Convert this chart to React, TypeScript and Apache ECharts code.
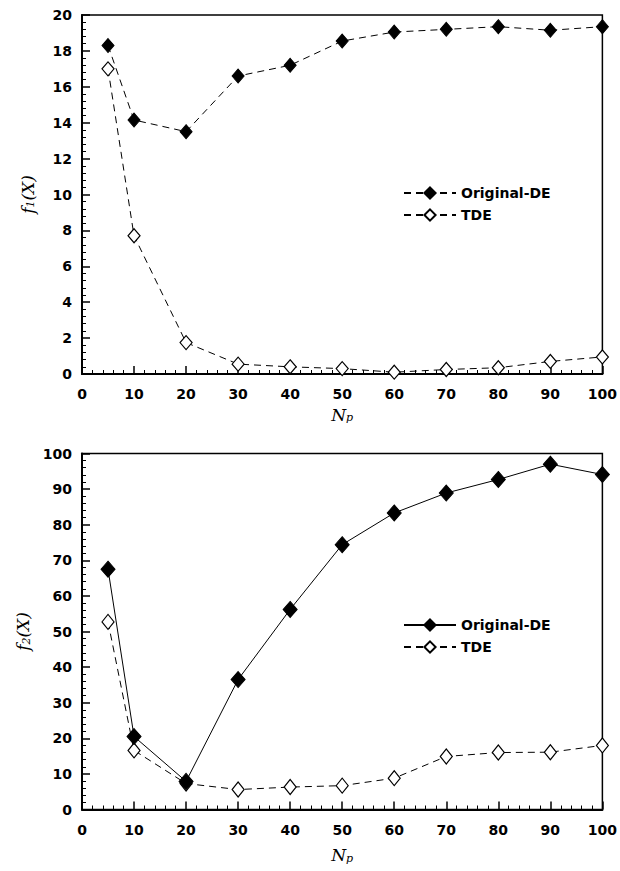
import React, { useEffect, useRef } from "react";
import * as echarts from "echarts";

const NP = [5, 10, 20, 30, 40, 50, 60, 70, 80, 90, 100];
const F1_ORIGINAL = [18.3, 14.15, 13.5, 16.6, 17.2, 18.55, 19.05, 19.2, 19.35, 19.15, 19.35];
const F1_TDE = [17.0, 7.7, 1.75, 0.55, 0.4, 0.3, 0.1, 0.25, 0.35, 0.7, 0.95];
const F2_ORIGINAL = [67.5, 20.5, 7.9, 36.5, 56.2, 74.4, 83.3, 88.9, 92.7, 97.0, 94.1];
const F2_TDE = [52.7, 16.6, 7.3, 5.6, 6.3, 6.7, 8.8, 14.9, 16.0, 16.1, 18.0];
const LEGEND = ["Original-DE", "TDE"];

const SANS = "DejaVu Sans";
const SERIF = "DejaVu Serif";

const labelStyle = { color: "#000", fontFamily: SANS, fontWeight: "bold", fontSize: 14 };

function nameRich() {
  return {
    rich: {
      m: { fontFamily: SERIF, fontStyle: "italic", fontSize: 17, color: "#000", lineHeight: 22, verticalAlign: "bottom" },
      s: { fontFamily: SERIF, fontStyle: "italic", fontSize: 11, color: "#000", lineHeight: 16, verticalAlign: "bottom" },
    },
  };
}

function makeOption(cfg: {
  gridTop: number;
  gridHeight: number;
  yMax: number;
  yInterval: number;
  yName: string;
  xNameGap: number;
  legendTop: number;
  orig: number[];
  tde: number[];
  origSolid: boolean;
  origSize: number[];
  tdeSize: number[];
}) {
  const axisCommon = {
    type: "value",
    axisLine: { show: true, onZero: false, lineStyle: { color: "#000", width: 2 } },
    axisTick: { show: true, inside: true, length: 8, lineStyle: { color: "#000", width: 1.5 } },
    minorTick: { show: true, splitNumber: 5, length: 4, lineStyle: { color: "#000", width: 1 } },
    splitLine: { show: false },
    minorSplitLine: { show: false },
  };
  return {
    animation: false,
    grid: {
      left: 82,
      top: cfg.gridTop,
      width: 524,
      height: cfg.gridHeight,
      show: true,
      borderColor: "#000",
      borderWidth: 1.5,
      backgroundColor: "transparent",
    },
    xAxis: {
      ...axisCommon,
      min: 0,
      max: 100,
      interval: 10,
      axisLabel: { ...labelStyle, margin: 13 },
      name: "{m|N}{s|p}",
      nameLocation: "middle",
      nameGap: cfg.xNameGap,
      nameTextStyle: nameRich(),
    },
    yAxis: {
      ...axisCommon,
      min: 0,
      max: cfg.yMax,
      interval: cfg.yInterval,
      axisLabel: { ...labelStyle, margin: 10 },
      name: cfg.yName,
      nameLocation: "middle",
      nameRotate: 90,
      nameGap: 46,
      nameTextStyle: nameRich(),
    },
    legend: {
      orient: "vertical",
      left: 398,
      top: cfg.legendTop,
      itemWidth: 52,
      itemHeight: 14,
      itemGap: 8,
      data: LEGEND,
      textStyle: { ...labelStyle },
      selectedMode: false,
    },
    series: [
      {
        name: "TDE",
        type: "line",
        data: NP.map((x, i) => [x, cfg.tde[i]]),
        symbol: "diamond",
        symbolSize: cfg.tdeSize,
        showAllSymbol: true,
        lineStyle: { color: "#000", width: 1, type: [7, 5] },
        itemStyle: { color: "#fff", borderColor: "#000", borderWidth: 1.2 },
        clip: false,
        z: 2,
      },
      {
        name: "Original-DE",
        type: "line",
        data: NP.map((x, i) => [x, cfg.orig[i]]),
        symbol: "diamond",
        symbolSize: cfg.origSize,
        showAllSymbol: true,
        lineStyle: { color: "#000", width: 1, type: cfg.origSolid ? "solid" : [7, 5] },
        itemStyle: { color: "#000", borderColor: "#000", borderWidth: 1 },
        clip: false,
        z: 3,
      },
    ],
  };
}

function Chart({ option, style }: { option: any; style: React.CSSProperties }) {
  const ref = useRef<HTMLDivElement>(null);
  useEffect(() => {
    if (!ref.current) return;
    const chart = echarts.init(ref.current, undefined, { renderer: "svg" });
    chart.setOption(option);
    return () => chart.dispose();
  }, [option]);
  return <div ref={ref} style={style} />;
}

const topOption = makeOption({
  gridTop: 15,
  gridHeight: 359,
  yMax: 20,
  yInterval: 2,
  yName: "{m|f}{s|1}{m|(X)}",
  xNameGap: 27,
  legendTop: 181,
  orig: F1_ORIGINAL,
  tde: F1_TDE,
  origSolid: false,
  origSize: [12, 14],
  tdeSize: [12, 14],
});

const bottomOption = makeOption({
  gridTop: 18.5,
  gridHeight: 356,
  yMax: 100,
  yInterval: 10,
  yName: "{m|f}{s|2}{m|(X)}",
  xNameGap: 32,
  legendTop: 178,
  orig: F2_ORIGINAL,
  tde: F2_TDE,
  origSolid: true,
  origSize: [14, 16],
  tdeSize: [12, 15],
});

export default function App() {
  return (
    <div style={{ position: "fixed", left: 0, top: 0, width: 620, height: 871, background: "#fff" }}>
      <Chart option={topOption} style={{ position: "absolute", left: 0, top: 0, width: 620, height: 435 }} />
      <Chart option={bottomOption} style={{ position: "absolute", left: 0, top: 435, width: 620, height: 436 }} />
    </div>
  );
}
